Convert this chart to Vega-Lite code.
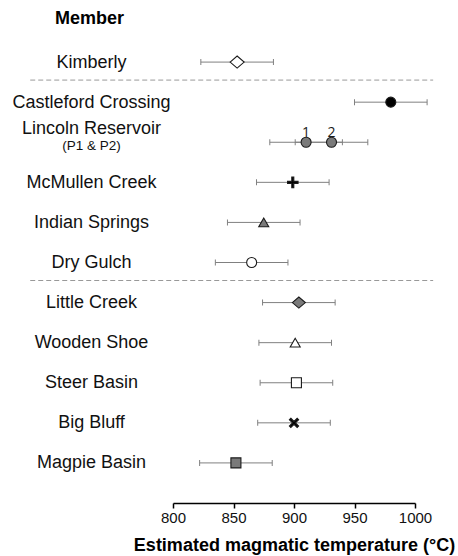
{
  "$schema": "https://vega.github.io/schema/vega-lite/v6.json",
  "width": 242,
  "height": 481,
  "autosize": "none",
  "padding": {"left": 173, "top": 22, "right": 43, "bottom": 53},
  "background": "white",
  "config": {
    "view": {"stroke": null},
    "font": "Liberation Sans",
    "axisX": {
      "titleFont": "Liberation Sans", "titleFontSize": 18, "titleFontWeight": "bold", "titleColor": "#000000", "titlePadding": 11,
      "labelFont": "Liberation Sans", "labelFontSize": 15, "labelColor": "#111111", "labelPadding": 2, "labelFlush": false,
      "tickSize": 5, "tickWidth": 1.5, "tickColor": "#000000", "domainColor": "#000000", "domainWidth": 1.5, "grid": false
    }
  },
  "datasets": {
    "temps": [
      {"member": "Kimberly", "value": 853, "lo": 823, "hi": 883, "label": ""},
      {"member": "Castleford Crossing", "value": 980, "lo": 950, "hi": 1010, "label": ""},
      {"member": "Lincoln Reservoir", "value": 910, "lo": 880, "hi": 940, "label": "1"},
      {"member": "Lincoln Reservoir", "value": 931, "lo": 901, "hi": 961, "label": "2"},
      {"member": "McMullen Creek", "value": 899, "lo": 869, "hi": 929, "label": ""},
      {"member": "Indian Springs", "value": 875, "lo": 845, "hi": 905, "label": ""},
      {"member": "Dry Gulch", "value": 865, "lo": 835, "hi": 895, "label": ""},
      {"member": "Little Creek", "value": 904, "lo": 874, "hi": 934, "label": ""},
      {"member": "Wooden Shoe", "value": 901, "lo": 871, "hi": 931, "label": ""},
      {"member": "Steer Basin", "value": 902, "lo": 872, "hi": 932, "label": ""},
      {"member": "Big Bluff", "value": 900, "lo": 870, "hi": 930, "label": ""},
      {"member": "Magpie Basin", "value": 852, "lo": 822, "hi": 882, "label": ""}
    ],
    "separators": [{"member": "Kimberly"}, {"member": "Dry Gulch"}]
  },
  "layer": [
    {
      "data": {"name": "separators"},
      "mark": {"type": "rule", "strokeDash": [5, 3], "color": "#999999", "strokeWidth": 1, "yOffset": 18},
      "encoding": {
        "y": {"field": "member", "type": "nominal", "scale": {"type": "point", "padding": 1, "domain": ["Kimberly", "Castleford Crossing", "Lincoln Reservoir", "McMullen Creek", "Indian Springs", "Dry Gulch", "Little Creek", "Wooden Shoe", "Steer Basin", "Big Bluff", "Magpie Basin"]}, "axis": null},
        "x": {"datum": 682, "type": "quantitative", "title": "Estimated magmatic temperature (°C)", "scale": {"domain": [800, 1000], "nice": false, "zero": false}, "axis": {"values": [800, 850, 900, 950, 1000], "format": "d"}},
        "x2": {"datum": 1015}
      }
    },
    {
      "data": {"name": "temps"},
      "mark": {"type": "rule", "color": "#808080", "strokeWidth": 1},
      "encoding": {
        "y": {"field": "member", "type": "nominal", "scale": {"type": "point", "padding": 1, "domain": ["Kimberly", "Castleford Crossing", "Lincoln Reservoir", "McMullen Creek", "Indian Springs", "Dry Gulch", "Little Creek", "Wooden Shoe", "Steer Basin", "Big Bluff", "Magpie Basin"]}, "axis": null},
        "x": {"field": "lo", "type": "quantitative", "title": "Estimated magmatic temperature (°C)", "scale": {"domain": [800, 1000], "nice": false, "zero": false}, "axis": {"values": [800, 850, 900, 950, 1000], "format": "d"}},
        "x2": {"field": "hi"}
      }
    },
    {
      "data": {"name": "temps"},
      "mark": {"type": "tick", "orient": "vertical", "size": 6, "thickness": 1, "color": "#808080", "opacity": 1},
      "encoding": {
        "y": {"field": "member", "type": "nominal", "scale": {"type": "point", "padding": 1, "domain": ["Kimberly", "Castleford Crossing", "Lincoln Reservoir", "McMullen Creek", "Indian Springs", "Dry Gulch", "Little Creek", "Wooden Shoe", "Steer Basin", "Big Bluff", "Magpie Basin"]}, "axis": null},
        "x": {"field": "lo", "type": "quantitative", "title": "Estimated magmatic temperature (°C)", "scale": {"domain": [800, 1000], "nice": false, "zero": false}, "axis": {"values": [800, 850, 900, 950, 1000], "format": "d"}}
      }
    },
    {
      "data": {"name": "temps"},
      "mark": {"type": "tick", "orient": "vertical", "size": 6, "thickness": 1, "color": "#808080", "opacity": 1},
      "encoding": {
        "y": {"field": "member", "type": "nominal", "scale": {"type": "point", "padding": 1, "domain": ["Kimberly", "Castleford Crossing", "Lincoln Reservoir", "McMullen Creek", "Indian Springs", "Dry Gulch", "Little Creek", "Wooden Shoe", "Steer Basin", "Big Bluff", "Magpie Basin"]}, "axis": null},
        "x": {"field": "hi", "type": "quantitative", "title": "Estimated magmatic temperature (°C)", "scale": {"domain": [800, 1000], "nice": false, "zero": false}, "axis": {"values": [800, 850, 900, 950, 1000], "format": "d"}}
      }
    },
    {
      "data": {"name": "temps"},
      "mark": {"type": "point", "filled": true, "size": 100, "stroke": "#1a1a1a", "strokeWidth": 1.1, "opacity": 1},
      "encoding": {
        "y": {
          "field": "member", "type": "nominal",
          "scale": {"type": "point", "padding": 1, "domain": ["Kimberly", "Castleford Crossing", "Lincoln Reservoir", "McMullen Creek", "Indian Springs", "Dry Gulch", "Little Creek", "Wooden Shoe", "Steer Basin", "Big Bluff", "Magpie Basin"]},
          "axis": {
            "orient": "left", "title": "Member", "titleAngle": 0, "titleAlign": "center", "titleBaseline": "middle",
            "titleX": -84, "titleY": -4, "titleFont": "Liberation Sans", "titleFontSize": 18, "titleFontWeight": "bold", "titleColor": "#000000",
            "labelAlign": "center", "labelBaseline": "middle", "labelPadding": 82, "labelFontSize": 18, "labelColor": "#111111",
            "labelFont": "Liberation Sans", "labelLimit": 300, "ticks": false, "domain": false, "grid": false,
            "labelOffset": {"condition": {"test": "datum.value == 'Lincoln Reservoir'", "value": -14}, "value": 0}
          }
        },
        "x": {"field": "value", "type": "quantitative", "title": "Estimated magmatic temperature (°C)", "scale": {"domain": [800, 1000], "nice": false, "zero": false}, "axis": {"values": [800, 850, 900, 950, 1000], "format": "d"}},
        "shape": {
          "field": "member", "type": "nominal", "legend": null,
          "scale": {
            "domain": ["Kimberly", "Castleford Crossing", "Lincoln Reservoir", "McMullen Creek", "Indian Springs", "Dry Gulch", "Little Creek", "Wooden Shoe", "Steer Basin", "Big Bluff", "Magpie Basin"],
            "range": ["M-1.4,0L0,-1.2L1.4,0L0,1.2Z", "circle", "circle", "M-1.05,-0.2H-0.2V-1.05H0.2V-0.2H1.05V0.2H0.2V1.05H-0.2V0.2H-1.05Z", "triangle-up", "circle", "M-1.3,0L0,-1.1L1.3,0L0,1.1Z", "triangle-up", "square", "M-0.636,-0.919L0,-0.283L0.636,-0.919L0.919,-0.636L0.283,0L0.919,0.636L0.636,0.919L0,0.283L-0.636,0.919L-0.919,0.636L-0.283,0L-0.919,-0.636Z", "square"]
          }
        },
        "fill": {
          "field": "member", "type": "nominal", "legend": null,
          "scale": {
            "domain": ["Kimberly", "Castleford Crossing", "Lincoln Reservoir", "McMullen Creek", "Indian Springs", "Dry Gulch", "Little Creek", "Wooden Shoe", "Steer Basin", "Big Bluff", "Magpie Basin"],
            "range": ["#ffffff", "#000000", "#7a7a7a", "#000000", "#7a7a7a", "#ffffff", "#7a7a7a", "#ffffff", "#ffffff", "#000000", "#7a7a7a"]
          }
        }
      }
    },
    {
      "data": {"name": "temps"},
      "transform": [{"filter": "datum.label != ''"}],
      "mark": {"type": "text", "baseline": "alphabetic", "align": "center", "dy": -5, "font": "Open Sans", "fontSize": 14, "color": "#1a1a1a"},
      "encoding": {
        "y": {
          "field": "member", "type": "nominal",
          "scale": {"type": "point", "padding": 1, "domain": ["Kimberly", "Castleford Crossing", "Lincoln Reservoir", "McMullen Creek", "Indian Springs", "Dry Gulch", "Little Creek", "Wooden Shoe", "Steer Basin", "Big Bluff", "Magpie Basin"]},
          "axis": {
            "orient": "left", "title": null, "labelExpr": "datum.value == 'Lincoln Reservoir' ? '(P1 & P2)' : ''",
            "labelAlign": "center", "labelBaseline": "middle", "labelPadding": 82, "labelFontSize": 13.5, "labelColor": "#111111",
            "labelFont": "Liberation Sans", "labelOffset": 3, "ticks": false, "domain": false, "grid": false
          }
        },
        "x": {"field": "value", "type": "quantitative", "title": "Estimated magmatic temperature (°C)", "scale": {"domain": [800, 1000], "nice": false, "zero": false}, "axis": {"values": [800, 850, 900, 950, 1000], "format": "d"}},
        "text": {"field": "label"}
      }
    }
  ],
  "resolve": {"axis": {"y": "independent"}}
}
